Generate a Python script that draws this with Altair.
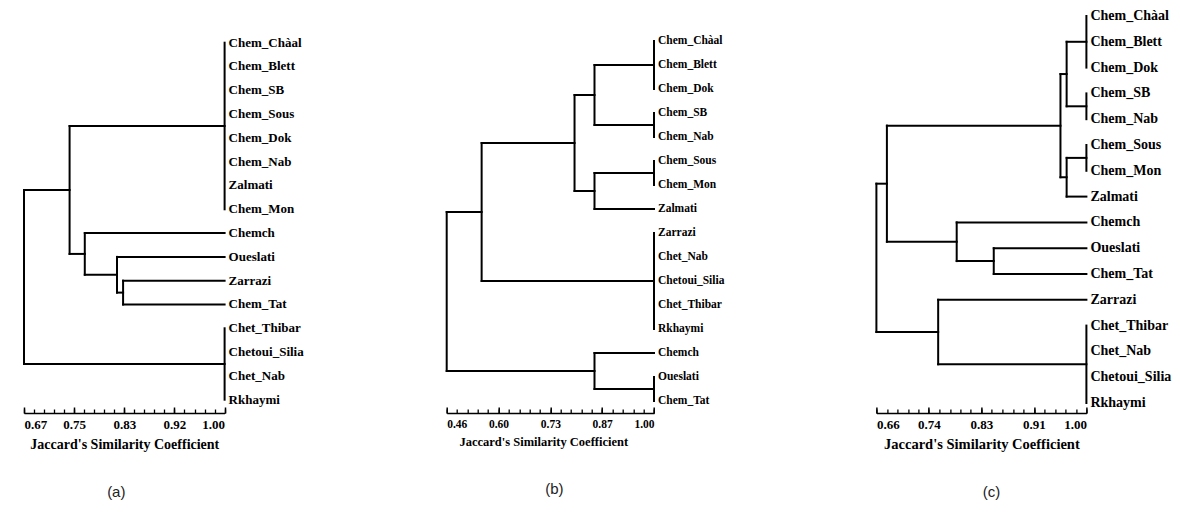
import altair as alt
import pandas as pd
import numpy as np

# ---------------- data ----------------
leaves_a = ["Chem_Chàal", "Chem_Blett", "Chem_SB", "Chem_Sous", "Chem_Dok", "Chem_Nab",
            "Zalmati", "Chem_Mon", "Chemch", "Oueslati", "Zarrazi", "Chem_Tat",
            "Chet_Thibar", "Chetoui_Silia", "Chet_Nab", "Rkhaymi"]
nodes_a = [
    ("A1", ["Chem_Chàal", "Chem_Blett", "Chem_SB", "Chem_Sous", "Chem_Dok", "Chem_Nab", "Zalmati", "Chem_Mon"], 1.00),
    ("A2", ["Chet_Thibar", "Chetoui_Silia", "Chet_Nab", "Rkhaymi"], 1.00),
    ("A3", ["Zarrazi", "Chem_Tat"], 0.833),
    ("A4", ["Oueslati", "A3"], 0.823),
    ("A5", ["Chemch", "A4"], 0.770),
    ("A6", ["A1", "A5"], 0.745),
    ("A7", ["A6", "A2"], 0.670),
]
ticks_a = ["0.67", "0.75", "0.83", "0.92", "1.00"]

leaves_b = ["Chem_Chàal", "Chem_Blett", "Chem_Dok", "Chem_SB", "Chem_Nab", "Chem_Sous",
            "Chem_Mon", "Zalmati", "Zarrazi", "Chet_Nab", "Chetoui_Silia", "Chet_Thibar",
            "Rkhaymi", "Chemch", "Oueslati", "Chem_Tat"]
nodes_b = [
    ("B1", ["Chem_Chàal", "Chem_Blett", "Chem_Dok"], 1.00),
    ("B2", ["Chem_SB", "Chem_Nab"], 1.00),
    ("B3", ["Chem_Sous", "Chem_Mon"], 1.00),
    ("B4", ["Zarrazi", "Chet_Nab", "Chetoui_Silia", "Chet_Thibar", "Rkhaymi"], 1.00),
    ("B5", ["Oueslati", "Chem_Tat"], 1.00),
    ("B6", ["B1", "B2"], 0.845),
    ("B7", ["B3", "Zalmati"], 0.845),
    ("B8", ["B6", "B7"], 0.793),
    ("B9", ["B8", "B4"], 0.551),
    ("B10", ["Chemch", "B5"], 0.845),
    ("B11", ["B9", "B10"], 0.460),
]
ticks_b = ["0.46", "0.60", "0.73", "0.87", "1.00"]

leaves_c = ["Chem_Chàal", "Chem_Blett", "Chem_Dok", "Chem_SB", "Chem_Nab", "Chem_Sous",
            "Chem_Mon", "Zalmati", "Chemch", "Oueslati", "Chem_Tat", "Zarrazi",
            "Chet_Thibar", "Chet_Nab", "Chetoui_Silia", "Rkhaymi"]
nodes_c = [
    ("C1", ["Chem_Chàal", "Chem_Blett", "Chem_Dok"], 1.00),
    ("C2", ["Chem_SB", "Chem_Nab"], 1.00),
    ("C3", ["Chem_Sous", "Chem_Mon"], 1.00),
    ("C4", ["Chet_Thibar", "Chet_Nab", "Chetoui_Silia", "Rkhaymi"], 1.00),
    ("C5", ["C1", "C2"], 0.968),
    ("C6", ["C3", "Zalmati"], 0.968),
    ("C7", ["C5", "C6"], 0.958),
    ("C8", ["Oueslati", "Chem_Tat"], 0.850),
    ("C9", ["Chemch", "C8"], 0.790),
    ("C10", ["C7", "C9"], 0.677),
    ("C11", ["Zarrazi", "C4"], 0.760),
    ("C12", ["C10", "C11"], 0.660),
]
ticks_c = ["0.66", "0.74", "0.83", "0.91", "1.00"]

AXIS_TITLE = "Jaccard's Similarity Coefficient"
H = 413
FONT = "Liberation Serif"


def segments(leaves, nodes):
    pos = {name: i for i, name in enumerate(leaves)}
    xv = {name: 1.0 for name in leaves}
    rows = []
    for name, members, sim in nodes:
        ys = [pos[m] for m in members]
        for m in members:
            if xv[m] != sim:
                rows.append(dict(x=xv[m], x2=sim, y=pos[m], y2=pos[m]))
        rows.append(dict(x=sim, x2=sim, y=min(ys), y2=max(ys)))
        pos[name] = (ys[0] + ys[-1]) / 2
        xv[name] = sim
    return pd.DataFrame(rows)


def panel(leaves, nodes, tick_labels, lo, hi, width, ydom, leaf_fs, tick_fs,
          title_fs, letter, letter_dx, title_x=None):
    seg = segments(leaves, nodes)
    lab = pd.DataFrame({"name": leaves, "x": 1.0, "y": list(range(len(leaves)))})
    xs = alt.Scale(domain=[lo, hi], nice=False, zero=False)
    ys = alt.Scale(domain=ydom, reverse=True, nice=False, zero=False)
    majors = list(np.linspace(lo, hi, 5))
    minors = list(np.linspace(lo, hi, 21))
    arr = "[" + ",".join("'%s'" % t for t in tick_labels) + "]"
    expr = arr + "[round((datum.value-(%f))/(%f))]" % (lo, (hi - lo) / 4)

    axis_kw = dict(orient="bottom", values=majors, labelExpr=expr, ticks=False,
                   tickSize=0, grid=False, domain=True, domainColor="black",
                   domainWidth=1.6, labelFont=FONT, labelFontWeight="bold",
                   labelFontSize=tick_fs, labelColor="black", labelPadding=5,
                   title=AXIS_TITLE, titleFont=FONT, titleFontWeight="bold",
                   titleFontSize=title_fs, titleColor="black", titlePadding=6)
    if title_x is not None:
        axis_kw["titleX"] = title_x
    lines = alt.Chart(seg).mark_rule(color="black", strokeWidth=2, strokeCap="square").encode(
        x=alt.X("x:Q", scale=xs, axis=alt.Axis(**axis_kw)),
        x2="x2:Q",
        y=alt.Y("y:Q", scale=ys, axis=None),
        y2="y2:Q",
    )
    text = alt.Chart(lab).mark_text(align="left", baseline="middle", dx=4, font=FONT,
                                    fontWeight="bold", fontSize=leaf_fs, color="black").encode(
        x=alt.X("x:Q", scale=xs, axis=None),
        y=alt.Y("y:Q", scale=ys, axis=None),
        text="name:N",
    )
    major_ticks = alt.Chart(lab).mark_rule(opacity=0).encode(
        x=alt.X("x:Q", scale=xs, axis=alt.Axis(orient="top", offset=-H, values=majors,
                                                 labels=False, domain=False, grid=False,
                                                 tickSize=6, tickWidth=1.5, tickColor="black",
                                                 title=None)),
    )
    minor_ticks = alt.Chart(lab).mark_rule(opacity=0).encode(
        x=alt.X("x:Q", scale=xs, axis=alt.Axis(orient="top", offset=-H, values=minors,
                                                 labels=False, domain=False, grid=False,
                                                 tickSize=4, tickWidth=1.3, tickColor="black",
                                                 title=None)),
    )
    return alt.layer(lines, text, major_ticks, minor_ticks).resolve_axis(x="independent").properties(
        width=width, height=H,
        title=alt.TitleParams(letter, orient="bottom", offset=34, font="Liberation Sans",
                              fontSize=15, fontWeight="normal", color="#222", dx=letter_dx),
    )


pa = panel(leaves_a, nodes_a, ticks_a, 0.67, 1.00, 200.6, [-1.794, 15.559], 13, 13, 14, "(a)", -8)
pb = panel(leaves_b, nodes_b, ticks_b, 0.46, 1.00, 207.3, [-1.708, 15.5], 11.5, 11.5, 12.5, "(b)", 4,
           title_x=96.6)
pc = panel(leaves_c, nodes_c, ticks_c, 0.66, 1.00, 210.0, [-0.620, 15.388], 14, 13, 14.5, "(c)", 10)

chart = alt.hconcat(pa, pb, pc, spacing=221.7, bounds="flush").properties(
    padding={"left": 22, "top": 0, "right": 0, "bottom": 0},
    background="white",
).configure_view(strokeWidth=0)

chart.save("out.html", embed_options={"renderer": "svg", "actions": False})
